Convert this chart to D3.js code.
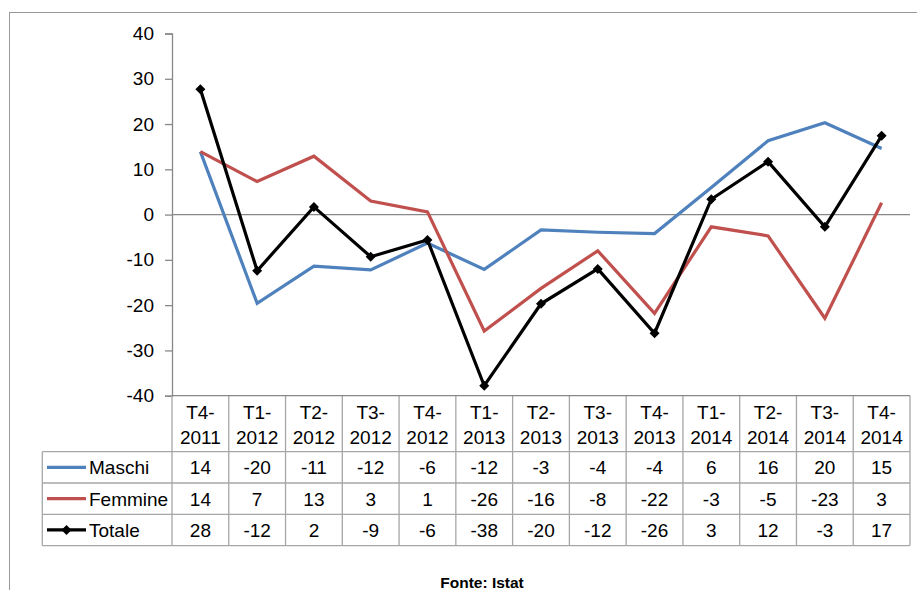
<!DOCTYPE html>
<html>
<head>
<meta charset="utf-8">
<script src="https://cdn.jsdelivr.net/npm/d3@7"></script>
<style>
  html, body { margin: 0; padding: 0; background: #fff; }
  svg { display: block; }
  text { font-family: "Liberation Sans", Arial, sans-serif; fill: #000; }
</style>
</head>
<body>
<svg id="chart" width="917" height="590"></svg>
<script>
// Quarterly changes (thousands), by sex
const quarters = ["T4-2011","T1-2012","T2-2012","T3-2012","T4-2012","T1-2013","T2-2013","T3-2013","T4-2013","T1-2014","T2-2014","T3-2014","T4-2014"];
const maschi   = [13.9, -19.6, -11.4, -12.2, -6.3, -12.1, -3.4, -3.9, -4.2, 6.0, 16.3, 20.3, 14.6];
const femmine  = [13.9, 7.3, 12.9, 3.0, 0.6, -25.7, -16.3, -8.0, -21.8, -2.7, -4.7, -22.9, 2.6];
const totale   = [27.7, -12.4, 1.7, -9.3, -5.6, -37.8, -19.7, -12.0, -26.2, 3.4, 11.7, -2.7, 17.4];
const yTicks   = [40, 30, 20, 10, 0, -10, -20, -30, -40];

const series = [
  { name: "Maschi",  values: maschi,  color: "#4F81BD", marker: false },
  { name: "Femmine", values: femmine, color: "#C0504D", marker: false },
  { name: "Totale",  values: totale,  color: "#000000", marker: true }
];

const svg = d3.select("#chart");
const plotLeft = 172, plotRight = 910, plotTop = 33.5, plotBottom = 395.7;
const headerH = 56, rowH = 31.3, legendLeft = 42.3;
const gridColor = "#888", tableColor = "#a6a6a6";
const fontSize = "19px";

// plain hyphen for negatives
const intText = v => String(Math.round(v));

// outer chart frame
svg.append("rect")
  .attr("x", 9.5).attr("y", 12.5).attr("width", 960).attr("height", 640)
  .attr("fill", "none").attr("stroke", "#999").attr("stroke-width", 1);

const x = d3.scaleBand().domain(quarters).range([plotLeft, plotRight]);
const y = d3.scaleLinear().domain([-40, 40]).range([plotBottom, plotTop]);

// y axis
const yAxis = d3.axisLeft(y).tickValues(yTicks).tickSize(7).tickPadding(11).tickFormat(intText);
const gy = svg.append("g").attr("transform", `translate(${plotLeft},0)`).call(yAxis);
gy.select(".domain").attr("stroke", gridColor).attr("stroke-width", 1.3);
gy.selectAll(".tick line").attr("stroke", gridColor).attr("stroke-width", 1.3);
gy.selectAll(".tick text").style("font-size", fontSize).style("font-family", "Liberation Sans, Arial, sans-serif");

// zero line
svg.append("line")
  .attr("x1", plotLeft).attr("x2", plotRight).attr("y1", y(0)).attr("y2", y(0))
  .attr("stroke", gridColor).attr("stroke-width", 1.3);

// data table
const tableTop = plotBottom;
const rowsTop = tableTop + headerH;
const tableBottom = rowsTop + rowH * series.length;
const tg = svg.append("g");

// vertical separators under the category columns
quarters.forEach(q => {
  tg.append("line")
    .attr("x1", x(q)).attr("x2", x(q)).attr("y1", tableTop).attr("y2", tableBottom)
    .attr("stroke", tableColor).attr("stroke-width", 1.3);
});
tg.append("line").attr("x1", plotRight).attr("x2", plotRight).attr("y1", tableTop).attr("y2", tableBottom)
  .attr("stroke", tableColor).attr("stroke-width", 1.3);
tg.append("line").attr("x1", legendLeft).attr("x2", legendLeft).attr("y1", rowsTop).attr("y2", tableBottom)
  .attr("stroke", tableColor).attr("stroke-width", 1.3);
// horizontal rules
d3.range(series.length + 1).forEach(r => {
  tg.append("line")
    .attr("x1", legendLeft).attr("x2", plotRight)
    .attr("y1", rowsTop + r * rowH).attr("y2", rowsTop + r * rowH)
    .attr("stroke", tableColor).attr("stroke-width", 1.3);
});
// x axis line at the top of the table
svg.append("line").attr("x1", plotLeft).attr("x2", plotRight).attr("y1", plotBottom).attr("y2", plotBottom)
  .attr("stroke", gridColor).attr("stroke-width", 1.3);

// category headers (two lines)
quarters.forEach(q => {
  const parts = q.split("-");
  const cx = x(q) + x.bandwidth() / 2;
  const t = tg.append("text").attr("text-anchor", "middle").style("font-size", fontSize);
  t.append("tspan").attr("x", cx).attr("y", tableTop + 23).text(parts[0] + "-");
  t.append("tspan").attr("x", cx).attr("y", tableTop + 48.5).text(parts[1]);
});

const diamond = d3.symbol().type(d3.symbolSquare).size(50);

series.forEach((s, r) => {
  const cy = rowsTop + r * rowH + rowH / 2;
  // legend key
  tg.append("line").attr("x1", 47).attr("x2", 86).attr("y1", cy).attr("y2", cy)
    .attr("stroke", s.color).attr("stroke-width", 3.2);
  if (s.marker) {
    tg.append("path").attr("d", diamond())
      .attr("transform", `translate(66.5,${cy}) rotate(45)`).attr("fill", s.color);
  }
  tg.append("text").attr("x", 89).attr("y", cy + 7).style("font-size", fontSize).text(s.name);
  // values
  s.values.forEach((v, i) => {
    tg.append("text")
      .attr("x", x(quarters[i]) + x.bandwidth() / 2).attr("y", cy + 7)
      .attr("text-anchor", "middle").style("font-size", fontSize)
      .text(intText(v));
  });
});

// lines
const line = d3.line()
  .x((d, i) => x(quarters[i]) + x.bandwidth() / 2)
  .y(d => y(d));

series.forEach(s => {
  svg.append("path").datum(s.values)
    .attr("d", line).attr("fill", "none")
    .attr("stroke", s.color).attr("stroke-width", 3.2)
    .attr("stroke-linejoin", "miter");
  if (s.marker) {
    svg.append("g").selectAll("path").data(s.values).join("path")
      .attr("d", diamond())
      .attr("transform", (d, i) => `translate(${x(quarters[i]) + x.bandwidth() / 2},${y(d)}) rotate(45)`)
      .attr("fill", s.color);
  }
});

// source note
svg.append("text").attr("x", 482).attr("y", 588)
  .attr("text-anchor", "middle").style("font-size", "15.5px").style("font-weight", "bold")
  .text("Fonte: Istat");
</script>
</body>
</html>
